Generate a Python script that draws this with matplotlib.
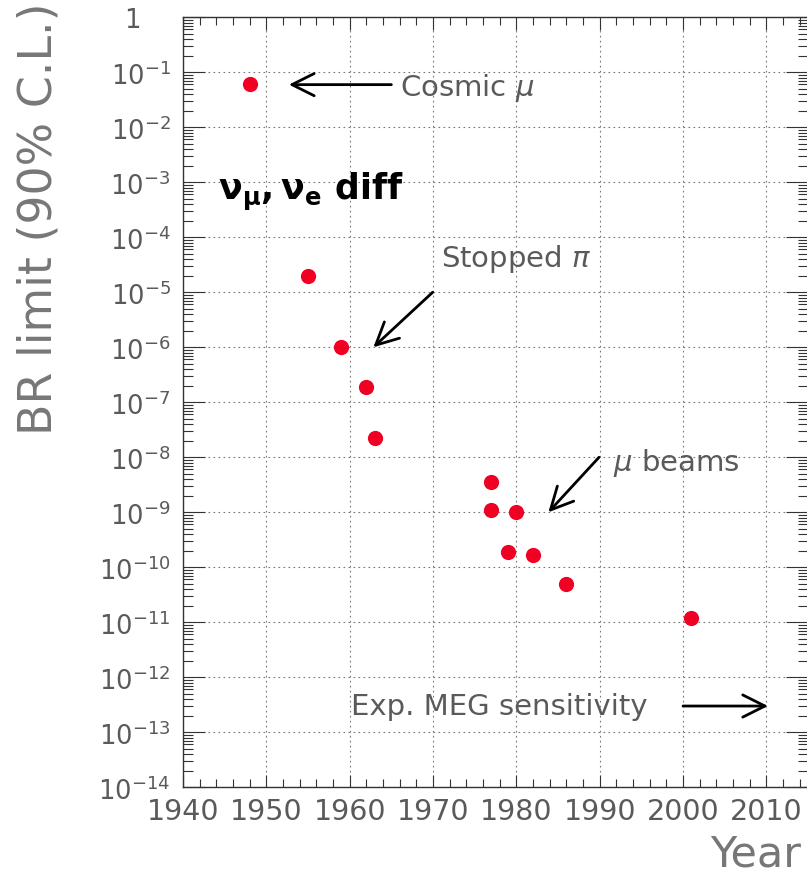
import numpy as np
import matplotlib.pyplot as plt
from matplotlib.ticker import MultipleLocator, LogLocator, FuncFormatter, NullFormatter

# Upper limits on mu -> e gamma branching ratio vs. year
years = [1948, 1955, 1959, 1962, 1963, 1977, 1977, 1980, 1979, 1982, 1986, 2001]
br_limits = [6e-2, 2e-5, 1e-6, 1.9e-7, 2.2e-8, 3.6e-9, 1.1e-9, 1.0e-9,
             1.9e-10, 1.7e-10, 4.9e-11, 1.2e-11]

meg_year = 2010.2
meg_sensitivity = 3e-13

gray = '#5a5a5a'

fig = plt.figure(figsize=(8.07, 8.78), dpi=100)
ax = fig.add_axes([0.2268, 0.1022, 0.7745, 0.877])

ax.scatter(years, br_limits, s=120, color='#f00022', zorder=3, linewidths=0)

ax.set_yscale('log')
ax.set_xlim(1940, 2015)
ax.set_ylim(1e-14, 1)

# ticks
ax.xaxis.set_major_locator(MultipleLocator(10))
ax.xaxis.set_minor_locator(MultipleLocator(2))
ax.yaxis.set_major_locator(LogLocator(base=10, numticks=20))
ax.yaxis.set_minor_locator(LogLocator(base=10, subs=np.arange(2, 10), numticks=20))
ax.yaxis.set_minor_formatter(NullFormatter())


def decade_label(v, pos):
    e = int(round(np.log10(v)))
    if e == 0:
        # pad so the "1" lines up with the "10" of the other labels
        return '1\u2007\u2002'
    return r'$10^{%d}$' % e


ax.yaxis.set_major_formatter(FuncFormatter(decade_label))
ax.tick_params(which='both', direction='in', top=True, right=True,
               color='#333333', width=0.8)
ax.tick_params(axis='x', which='major', length=9, labelsize=20.5,
               labelcolor=gray, pad=7)
ax.tick_params(axis='x', which='minor', length=6)
ax.tick_params(axis='y', which='major', length=16, labelsize=18.5,
               labelcolor=gray, pad=9)
ax.tick_params(axis='y', which='minor', length=7)

for sp in ax.spines.values():
    sp.set_color('#333333')
    sp.set_linewidth(1.0)

ax.grid(True, which='major', linestyle=(0, (1.5, 3)), linewidth=0.8,
        color='#777777')

# annotations
arrow = dict(arrowstyle='->', color='black', lw=2, mutation_scale=40,
             shrinkA=0, shrinkB=0)
txt = dict(fontsize=21, color=gray)

ax.text(1966.0, 10 ** -1.413, r'Cosmic $\mu$', **txt)
ax.annotate('', xy=(1952.7, 10 ** -1.225), xytext=(1965.0, 10 ** -1.225),
            arrowprops=arrow)

ax.text(1944.2, 10 ** -3.30, r'$\mathbf{\nu_{\mu},\nu_{e}}$ diff',
        fontsize=25, fontweight='bold', color='black')

ax.text(1971.0, 10 ** -4.516, r'Stopped $\pi$', **txt)
ax.annotate('', xy=(1962.84, 1e-6), xytext=(1969.96, 1e-5),
            arrowprops=arrow)

ax.text(1991.6, 10 ** -8.23, r'$\mu$ beams', **txt)
ax.annotate('', xy=(1983.84, 1e-9), xytext=(1989.92, 1e-8),
            arrowprops=arrow)

ax.text(1960.1, 10 ** -12.67, 'Exp. MEG sensitivity', **txt)
ax.annotate('', xy=(meg_year, meg_sensitivity), xytext=(2000.0, meg_sensitivity),
            arrowprops=arrow)

# axis titles
fig.text(0.048, 0.997, 'BR limit (90% C.L.)', rotation=90, ha='center',
         va='top', fontsize=33, color='#777777')
fig.text(0.993, 1 - 834 / 878, 'Year', ha='right', va='top', fontsize=31,
         color='#777777')

plt.savefig('out.png', dpi=100)
